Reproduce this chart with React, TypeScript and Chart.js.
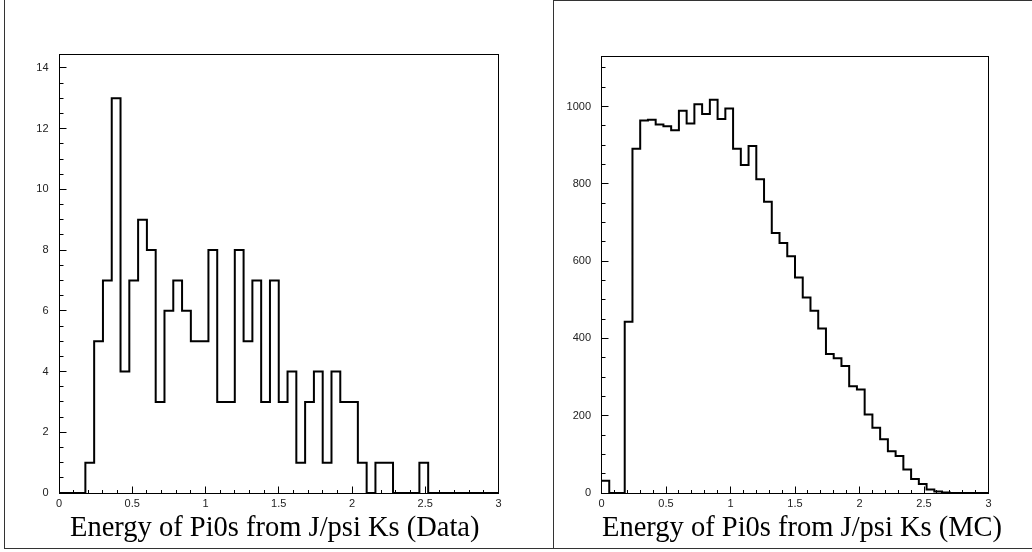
import React, { useEffect, useRef } from "react";
import { Chart, registerables } from "chart.js";

Chart.register(...registerables);

// ---- data ----
const BIN_WIDTH = 0.06;
const X_MIN = 0;
const X_MAX = 3;

// Energy of Pi0s from J/psi Ks (Data): 50 bins of 0.06
const dataCounts = [
  0, 0, 0, 1, 5, 7, 13, 4, 7, 9,
  8, 3, 6, 7, 6, 5, 5, 8, 3, 3,
  8, 5, 7, 3, 7, 3, 4, 1, 3, 4,
  1, 4, 3, 3, 1, 0, 1, 1, 0, 0,
  0, 1, 0, 0, 0, 0, 0, 0, 0, 0,
];

// Energy of Pi0s from J/psi Ks (MC): 50 bins of 0.06
const mcCounts = [
  32, 0, 0, 443, 891, 964, 966, 954, 949, 939,
  989, 956, 1006, 981, 1018, 968, 995, 891, 849, 898,
  812, 754, 673, 647, 613, 558, 506, 472, 426, 360,
  349, 329, 276, 268, 203, 169, 139, 108, 96, 61,
  36, 23, 9, 4, 1, 0, 0, 0, 0, 0,
];

const xTicks = [0, 0.5, 1, 1.5, 2, 2.5, 3];
const dataYTicks = [0, 2, 4, 6, 8, 10, 12, 14];
const mcYTicks = [0, 200, 400, 600, 800, 1000];
const dataYMax = 14.46;
const mcYMax = 1131;

const dataTitle = "Energy of Pi0s from J/psi Ks (Data)";
const mcTitle = "Energy of Pi0s from J/psi Ks (MC)";

// ---- plugin: frame + inner major/minor ticks ----
const frameMinorPlugin = {
  id: "frameMinor",
  afterDraw(chart: any, _args: any, opts: any) {
    const { ctx, chartArea: a, scales } = chart;
    const al = (v: number) => Math.floor(v) + 0.5;
    const L = al(a.left), R = al(a.right), T = al(a.top), B = al(a.bottom);
    ctx.save();
    ctx.strokeStyle = "#000";
    ctx.lineWidth = 1;
    ctx.beginPath();
    const xs = scales.x;
    const ys = scales.y;
    // minor ticks
    const nx = Math.round((xs.max - xs.min) / opts.xStep);
    for (let i = 0; i <= nx; i++) {
      const p = al(xs.getPixelForValue(xs.min + i * opts.xStep));
      ctx.moveTo(p, B);
      ctx.lineTo(p, B - opts.xLen);
    }
    const ny = Math.floor((ys.max - ys.min) / opts.yStep + 1e-9);
    for (let i = 0; i <= ny; i++) {
      const p = al(ys.getPixelForValue(ys.min + i * opts.yStep));
      ctx.moveTo(L, p);
      ctx.lineTo(L + opts.yLen, p);
    }
    // major ticks, from the library's own tick list
    for (const t of xs.ticks) {
      const p = al(xs.getPixelForValue(t.value));
      ctx.moveTo(p, B);
      ctx.lineTo(p, B - opts.majorLen);
    }
    for (const t of ys.ticks) {
      const p = al(ys.getPixelForValue(t.value));
      ctx.moveTo(L, p);
      ctx.lineTo(L + opts.majorLen, p);
    }
    ctx.stroke();
    ctx.strokeRect(L, T, R - L, B - T);
    ctx.restore();
  },
};

const tickFont = { family: "'Liberation Sans', Arial, Helvetica, sans-serif", size: 11 };

type HistProps = {
  counts: number[];
  yMax: number;
  yTicks: number[];
  yMinor: number;
  canvasLeft: number;
  canvasWidth: number;
  area: { left: number; right: number; top: number; bottom: number };
};

function Histogram({ counts, yMax, yTicks, yMinor, canvasLeft, canvasWidth, area }: HistProps) {
  const ref = useRef<HTMLCanvasElement | null>(null);
  useEffect(() => {
    if (!ref.current) return;
    const points = counts.map((c, i) => ({ x: X_MIN + i * BIN_WIDTH, y: c }));
    points.push({ x: X_MAX, y: 0 });
    const H = 552;
    const chart = new Chart(ref.current, {
      type: "line",
      data: {
        datasets: [
          {
            data: points,
            stepped: "before",
            borderColor: "#000",
            borderWidth: 2,
            pointRadius: 0,
            fill: false,
            clip: false as any,
          },
        ],
      },
      plugins: [frameMinorPlugin as any],
      options: {
        animation: false,
        responsive: false,
        events: [],
        layout: {
          padding: { left: 0, top: area.top, right: canvasWidth - area.right, bottom: 0 },
        },
        plugins: {
          legend: { display: false },
          tooltip: { enabled: false },
          frameMinor: { xStep: 0.1, xLen: 3.5, yStep: yMinor, yLen: 4, majorLen: 7 },
        } as any,
        scales: {
          x: {
            type: "linear",
            min: X_MIN,
            max: X_MAX,
            afterBuildTicks: (s: any) => {
              s.ticks = xTicks.map((v) => ({ value: v }));
            },
            afterFit: (s: any) => {
              s.height = H - area.bottom;
            },
            grid: { display: false, drawOnChartArea: false, drawTicks: false },
            border: { display: false },
            ticks: {
              padding: 4,
              font: tickFont,
              color: "#222",
              maxRotation: 0,
              autoSkip: false,
              callback: (v: any) => String(v),
            },
          },
          y: {
            type: "linear",
            min: 0,
            max: yMax,
            afterBuildTicks: (s: any) => {
              s.ticks = yTicks.map((v) => ({ value: v }));
            },
            afterFit: (s: any) => {
              s.width = area.left;
            },
            grid: { display: false, drawOnChartArea: false, drawTicks: false },
            border: { display: false },
            ticks: {
              padding: 10.5,
              font: tickFont,
              color: "#222",
              autoSkip: false,
              callback: (v: any) => String(v),
            },
          },
        },
      } as any,
    });
    return () => chart.destroy();
  }, []);
  return (
    <canvas
      ref={ref}
      width={canvasWidth}
      height={552}
      style={{ position: "absolute", left: canvasLeft, top: 0, width: canvasWidth, height: 552, display: "block" }}
    />
  );
}

const titleStyle: React.CSSProperties = {
  position: "absolute",
  top: 513,
  fontFamily: "'Liberation Serif', 'Times New Roman', serif",
  fontSize: 28.5,
  lineHeight: "28.5px",
  whiteSpace: "nowrap",
  color: "#000",
};

const lineColor = "#333";

export default function App() {
  return (
    <div style={{ position: "fixed", left: 0, top: 0, width: 1032, height: 552, background: "#fff", overflow: "hidden" }}>
      <Histogram
        counts={dataCounts}
        yMax={dataYMax}
        yTicks={dataYTicks}
        yMinor={0.5}
        canvasLeft={0}
        canvasWidth={553}
        area={{ left: 59, right: 498.5, top: 54, bottom: 493 }}
      />
      <Histogram
        counts={mcCounts}
        yMax={mcYMax}
        yTicks={mcYTicks}
        yMinor={50}
        canvasLeft={553}
        canvasWidth={479}
        area={{ left: 48.5, right: 435.5, top: 56, bottom: 493 }}
      />
      <div style={{ ...titleStyle, left: 70 }}>{dataTitle}</div>
      <div style={{ ...titleStyle, left: 602 }}>{mcTitle}</div>
      {/* panel borders */}
      <div style={{ position: "absolute", left: 4, top: 0, width: 1, height: 549, background: lineColor }} />
      <div style={{ position: "absolute", left: 4, top: 548, width: 1028, height: 1, background: lineColor }} />
      <div style={{ position: "absolute", left: 553, top: 0, width: 1, height: 549, background: lineColor }} />
      <div style={{ position: "absolute", left: 553, top: 0, width: 479, height: 1, background: lineColor }} />
    </div>
  );
}
